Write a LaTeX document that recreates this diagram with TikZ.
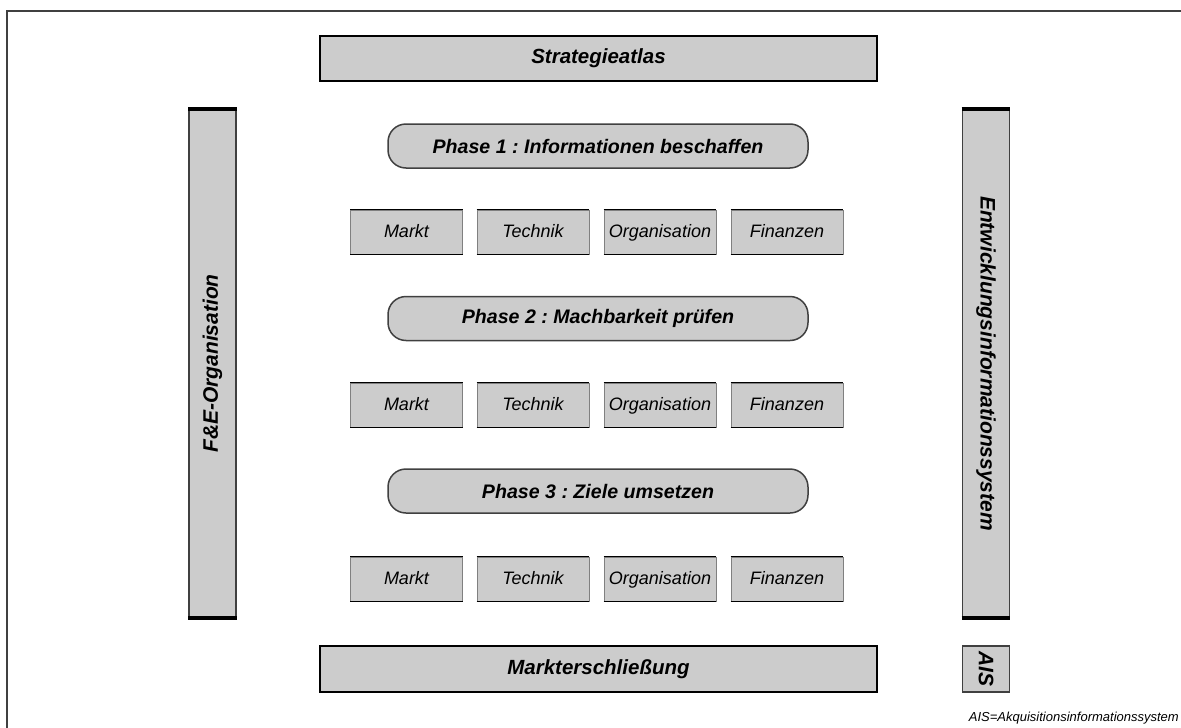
\documentclass[tikz,border=0pt]{standalone}
\usepackage{fontspec}
\setmainfont{Liberation Sans}
\usepackage{tikz}
\usetikzlibrary{positioning}
\definecolor{boxgray}{RGB}{204,204,204}
\definecolor{edgegray}{RGB}{64,64,64}
\frenchspacing

\begin{document}
\begin{tikzpicture}[x=1pt,y=-1pt,
    bigbox/.style={draw=black, line width=2pt, fill=boxgray, inner sep=0pt,
        minimum width=557pt, minimum height=45pt,
        font=\fontsize{20.5}{24}\selectfont\bfseries\itshape},
    phasebox/.style={draw=edgegray, line width=1.5pt, fill=boxgray, rounded corners=18pt,
        minimum width=420pt, minimum height=44pt, inner sep=0pt,
        font=\fontsize{19.6}{23}\selectfont\bfseries\itshape},
    areabox/.style={draw=gray, line width=0.8pt, fill=boxgray, inner sep=0pt,
        minimum width=112pt, minimum height=44pt, text height=12pt, text depth=0.5pt,
        font=\fontsize{18}{22}\selectfont\itshape},
    areaedge/.style={black, line width=1.8pt},
    sidebar/.style={draw=edgegray, line width=1.8pt, fill=boxgray, inner sep=0pt,
        minimum width=47pt},
    barcap/.style={black, line width=4pt},
    sidelabel/.style={font=\fontsize{21}{25}\selectfont\bfseries\itshape}]
    \useasboundingbox (0,0) rectangle (1181,728);

    % frame (left and top only)
    \draw[edgegray, line width=2pt] (7,728) -- (7,11) -- (1181,11);

    % top and bottom bars
    \node[bigbox] (atlas) at (598.5,58.5) {Strategieatlas};
    \node[bigbox, minimum height=46pt] (markt) at (598.5,669) {Markterschließung};

    % side bars
    \node[sidebar, minimum height=511pt] (fue) at (212.5,363.5) {};
    \draw[barcap] ([yshift=-2pt]fue.north west) -- ([yshift=-2pt]fue.north east);
    \draw[barcap] ([yshift=2pt]fue.south west) -- ([yshift=2pt]fue.south east);
    \node[sidelabel, rotate=90] (fuelabel) at (fue.center) {F\&E-Organisation};

    \node[sidebar, minimum height=511pt] (eis) at (986,363.5) {};
    \draw[barcap] ([yshift=-2pt]eis.north west) -- ([yshift=-2pt]eis.north east);
    \draw[barcap] ([yshift=2pt]eis.south west) -- ([yshift=2pt]eis.south east);
    \node[sidelabel, rotate=-90] (eislabel) at (eis.center) {Entwicklungsinformationssystem};

    \node[sidebar, line width=1.2pt, minimum height=46pt] (ais) at (986,669) {};
    \node[sidelabel, rotate=-90] (aislabel) at (ais.center) {AIS};

    % phases
    \node[phasebox] (phase1) at (598,146) {Phase 1 : Informationen beschaffen};
    \node[phasebox] (phase2) at (598,318.5) {Phase 2 : Machbarkeit prüfen};
    \node[phasebox] (phase3) at (598,491) {Phase 3 : Ziele umsetzen};

    % areas below each phase
    \foreach \row/\ypos in {1/232,2/405,3/579} {
        \foreach \col/\xpos/\area in {1/406.5/Markt,2/533/Technik,3/660/Organisation,4/787/Finanzen} {
            \node[areabox] (a\row\col) at (\xpos,\ypos) {\area};
            \draw[areaedge, line width=1.4pt] (a\row\col.north west) -- (a\row\col.north east);
            \draw[areaedge] (a\row\col.south west) -- (a\row\col.south east);
        }
    }

    % footnote
    \node[anchor=east, inner sep=0pt, font=\fontsize{13}{15}\selectfont\itshape] (note)
        at (1179,718) {AIS=Akquisitionsinformationssystem};
\end{tikzpicture}
\end{document}
